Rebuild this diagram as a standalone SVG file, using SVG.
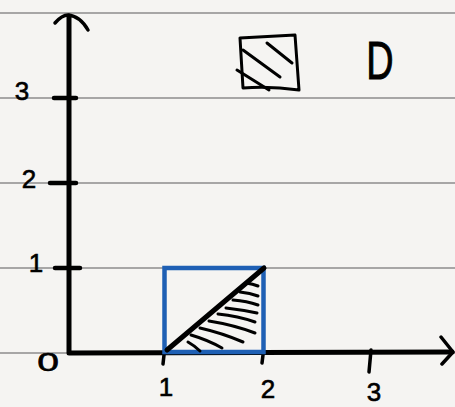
<svg xmlns="http://www.w3.org/2000/svg" width="455" height="407" viewBox="0 0 455 407">
<style>
.rule{stroke:#8c8c8c;stroke-width:1.5;fill:none}
.ink{stroke:#000;fill:none;stroke-linecap:round;stroke-linejoin:round}
.ax{stroke-width:5}
.hatch{stroke-width:3}
.lbl{font-family:"Liberation Sans",Arial,sans-serif;font-size:26px;fill:#000;stroke:#000;stroke-width:0.6;text-anchor:middle}
</style>
<rect width="455" height="407" fill="#f5f4f2"/>
<g id="rules">
<line class="rule" x1="0" y1="13" x2="455" y2="13"/>
<line class="rule" x1="0" y1="98" x2="455" y2="98"/>
<line class="rule" x1="0" y1="183" x2="455" y2="183"/>
<line class="rule" x1="0" y1="268" x2="455" y2="268"/>
<line class="rule" x1="0" y1="353" x2="455" y2="353"/>
</g>
<g id="connectors">
<path class="ink ax" d="M69,16 L69,353 L452,352"/>
<path class="ink" stroke-width="3.5" d="M55,23 Q62,15 68,15 Q80,16 88,30"/>
<path class="ink" stroke-width="3.5" d="M441,337 L453,352 L442,364"/>
<path class="ink" stroke-width="4.5" d="M54,98 L76,98 M50,183 L76,183 M55,268 L80,268"/>
<path class="ink" stroke-width="3.5" d="M164,355 L163,364 M263,355 L262,363 M371,350 L369,372"/>
</g>
<g id="labels">
<text class="lbl" x="22" y="100">3</text>
<text class="lbl" x="29" y="188">2</text>
<text class="lbl" x="36" y="272">1</text>
<text class="lbl" x="0" y="0" transform="translate(48,371) scale(1.5,1)">0</text>
<text class="lbl" x="166" y="396">1</text>
<text class="lbl" x="268" y="398">2</text>
<text class="lbl" x="374" y="401" font-size="22">3</text>
</g>
<g id="region">
<rect x="164.5" y="268" width="99" height="84" fill="none" stroke="#1e5fb4" stroke-width="4.5"/>
<path class="ink" stroke-width="5" d="M167,350 L264,268"/>
<g class="ink hatch">
<path d="M246,283 Q253,284 258,286"/>
<path d="M240,292 Q250,293 258,296"/>
<path d="M233,300 Q247,301 258,305"/>
<path d="M226,308 Q243,310 257,313"/>
<path d="M218,314 Q238,316 255,322"/>
<path d="M209,321 Q234,325 255,333"/>
<path d="M200,328 Q222,333 243,342"/>
<path d="M191,335 Q208,340 222,348"/>
<path d="M188,342 Q195,346 200,351"/>
</g>
</g>
<g id="legend">
<path class="ink" stroke-width="3" d="M240,38 L295,35 L299,90 Q270,86 243,88 Z"/>
<path class="ink" stroke-width="3" d="M243,50 L280,77 M267,43 L292,63 M237,70 L269,90"/>
<text x="0" y="0" transform="translate(380,79) scale(0.7,1)" font-family="Liberation Sans,Arial,sans-serif" font-size="54" text-anchor="middle" fill="#000" stroke="#000" stroke-width="1">D</text>
</g>
</svg>
